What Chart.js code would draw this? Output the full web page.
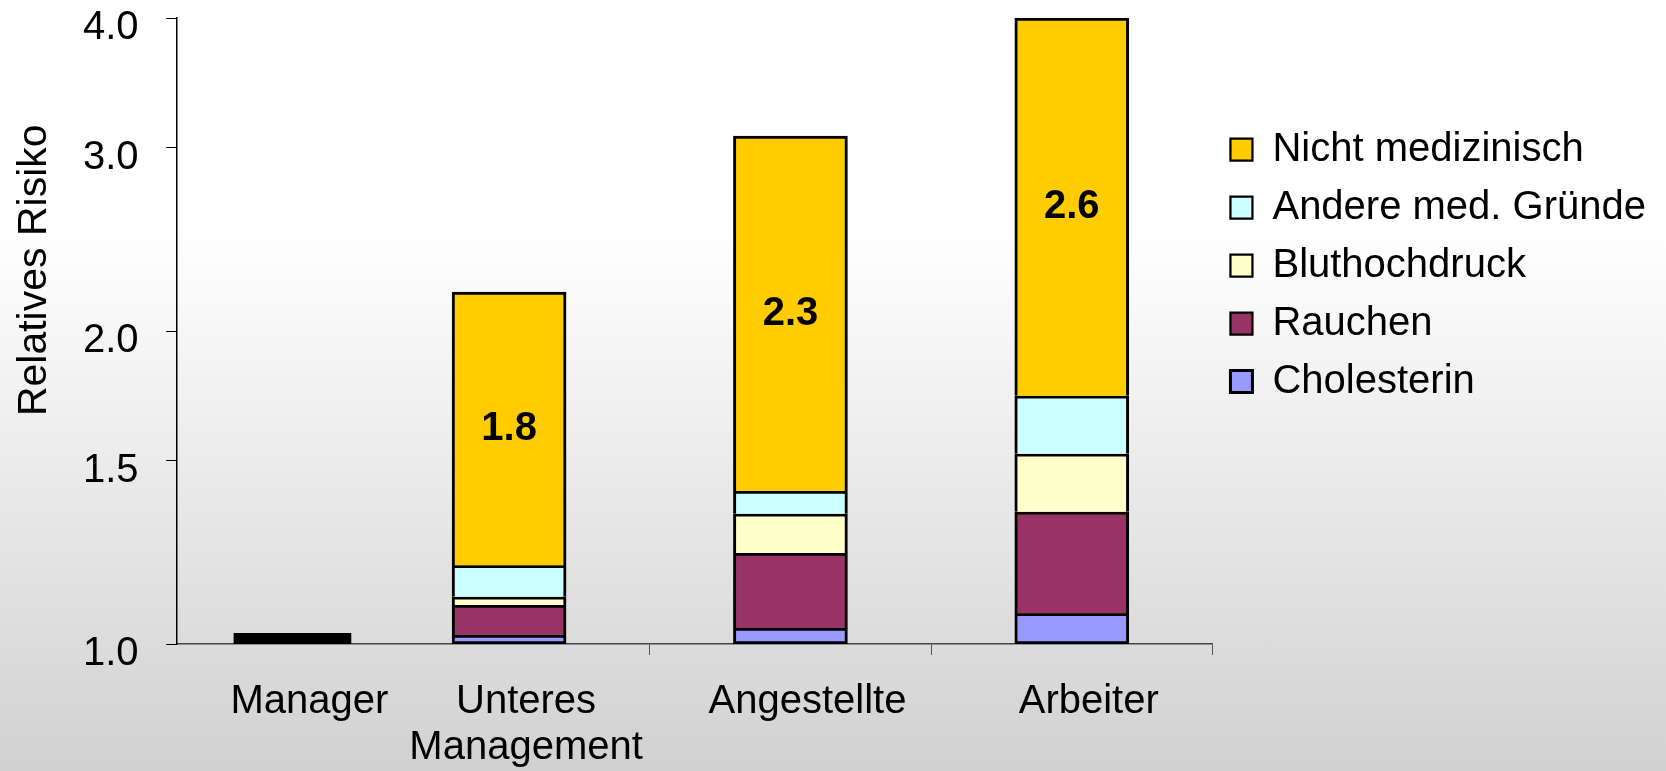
<!DOCTYPE html>
<html lang="de">
<head>
<meta charset="utf-8">
<title>Relatives Risiko nach Berufsgruppe</title>
<script src="https://cdn.jsdelivr.net/npm/chart.js@4.4.1/dist/chart.umd.min.js"></script>
<style>
  html, body { margin: 0; padding: 0; }
  body {
    width: 1666px;
    height: 771px;
    overflow: hidden;
    background: linear-gradient(to bottom, #ffffff 0%, #ffffff 30%, #d1d1d1 100%);
  }
  #wrap { position: relative; width: 1666px; height: 771px; }
</style>
</head>
<body>
<div id="wrap"><canvas id="riskChart"></canvas></div>
<script>
// groups along the x axis
const groups = ['Manager', ['Unteres', 'Management'], 'Angestellte', 'Arbeiter'];

// managers are the reference group (relative risk 1.0), shown as a thin black bar
const managerBar = [1.0, 1.024];

// upper edge of each factor in the stack (cumulative on the log axis)
// order: Unteres Management, Angestellte, Arbeiter
const cholesterin   = [1.02, 1.036, 1.07];
const rauchen       = [1.09, 1.223, 1.34];
const bluthochdruck = [1.11, 1.334, 1.524];
const andereMed     = [1.19, 1.403, 1.733];
const nichtMed      = [2.18, 3.08, 4.0];

// risk that remains after adjusting for the medical factors
const adjustedRisk = [1.8, 2.3, 2.6];

const yTicks = [1.0, 1.5, 2.0, 3.0, 4.0];

// where each group sits on the x axis; managers are pushed close to the y axis
const groupX = [0.23, 1, 2, 3];
const dividers = groupX.slice(1).map(v => v + 0.5);

const FONT = "'Liberation Sans', Arial, Helvetica, sans-serif";
Chart.defaults.font.family = FONT;
Chart.defaults.font.size = 40;
Chart.defaults.color = '#000';

const layers = [
  { label: 'Cholesterin', tops: cholesterin, color: '#9999ff' },
  { label: 'Rauchen', tops: rauchen, color: '#993366' },
  { label: 'Bluthochdruck', tops: bluthochdruck, color: '#ffffcc' },
  { label: 'Andere med. Gründe', tops: andereMed, color: '#ccffff' },
  { label: 'Nicht medizinisch', tops: nichtMed, color: '#ffcc00' }
];

// every layer is a floating bar from the layer below up to its own top
const datasets = layers.map((layer, k) => {
  const below = k === 0 ? null : layers[k - 1].tops;
  return {
    label: layer.label,
    data: layer.tops.map((top, i) => ({ x: groupX[i + 1], y: [below ? below[i] : 1, top] })),
    backgroundColor: layer.color,
    borderColor: '#000',
    borderWidth: { top: 3, left: 3, right: 3, bottom: k === 0 ? 3 : 0 },
    borderSkipped: false,
    barThickness: 114,
    grouped: false
  };
}).reverse(); // legend lists the top layer first

datasets.push({
  label: 'Manager',
  data: [{ x: groupX[0], y: managerBar }],
  backgroundColor: '#000',
  borderWidth: 0,
  barThickness: 117,
  grouped: false
});

// rotated y axis title, sitting a bit above the middle of the axis
const yTitle = {
  id: 'yTitle',
  afterDraw(chart) {
    const { ctx, chartArea } = chart;
    ctx.save();
    ctx.translate(35, chartArea.top + (chartArea.bottom - chartArea.top) * 0.403);
    ctx.rotate(-Math.PI / 2);
    ctx.font = '41px ' + FONT;
    ctx.fillStyle = '#000';
    ctx.textAlign = 'center';
    ctx.textBaseline = 'middle';
    ctx.fillText('Relatives Risiko', 0, 0);
    ctx.restore();
  }
};

// adjusted risk written inside the "Nicht medizinisch" segment
const segmentLabels = {
  id: 'segmentLabels',
  afterDatasetsDraw(chart) {
    const meta = chart.getDatasetMeta(0);
    const ctx = chart.ctx;
    ctx.save();
    ctx.font = 'bold 40px ' + FONT;
    ctx.fillStyle = '#000';
    ctx.textAlign = 'center';
    ctx.textBaseline = 'middle';
    meta.data.forEach((bar, i) => {
      const c = bar.getCenterPoint();
      ctx.fillText(adjustedRisk[i].toFixed(1), c.x, c.y);
    });
    ctx.restore();
  }
};

new Chart(document.getElementById('riskChart'), {
  type: 'bar',
  data: { datasets: datasets },
  options: {
    responsive: true,
    maintainAspectRatio: false,
    animation: false,
    layout: { padding: { left: 83, right: 10, top: 18, bottom: 0 } },
    plugins: {
      tooltip: { enabled: false },
      legend: {
        position: 'right',
        align: 'start',
        maxWidth: 500,
        title: { display: true, text: '', font: { size: 10, lineHeight: 1 }, padding: { top: 83.5, bottom: 0 } },
        labels: {
          boxWidth: 22,
          boxHeight: 22,
          padding: 18,
          color: '#000',
          font: { size: 40 },
          filter: item => item.datasetIndex < layers.length
        }
      }
    },
    scales: {
      x: {
        type: 'linear',
        min: -0.18,
        max: 3.5,
        offset: false,
        afterBuildTicks: axis => {
          axis.ticks = groupX.concat(dividers).sort((a, b) => a - b).map(v => ({ value: v }));
        },
        // fit() counts the tick padding twice; keep it once
        afterFit: axis => {
          axis.height -= axis.options.ticks.padding;
        },
        ticks: {
          autoSkip: false,
          maxRotation: 0,
          minRotation: 0,
          padding: 24,
          labelOffset: 17,
          font: { size: 40, lineHeight: 1.15 },
          callback: v => {
            const i = groupX.indexOf(v);
            return i < 0 ? '' : groups[i];
          }
        },
        grid: {
          offset: false,
          drawOnChartArea: false,
          drawTicks: true,
          tickLength: 11,
          tickWidth: 1,
          tickColor: ctx => (ctx.tick && dividers.includes(ctx.tick.value)) ? '#555' : 'rgba(0,0,0,0)'
        },
        border: { display: true, color: '#444', width: 1.5 }
      },
      y: {
        type: 'logarithmic',
        min: 1,
        max: 4,
        afterBuildTicks: axis => {
          axis.ticks = yTicks.map(v => ({ value: v }));
        },
        afterFit: axis => {
          axis.paddingTop = 0;
          axis.width -= axis.options.ticks.padding;
        },
        ticks: {
          padding: 27.5,
          labelOffset: 10,
          font: { size: 40 },
          callback: v => Number(v).toFixed(1)
        },
        grid: { drawOnChartArea: false, drawTicks: true, tickLength: 11, color: '#000' },
        border: { display: true, color: '#000', width: 1.5 }
      }
    }
  },
  plugins: [yTitle, segmentLabels]
});
</script>
</body>
</html>
